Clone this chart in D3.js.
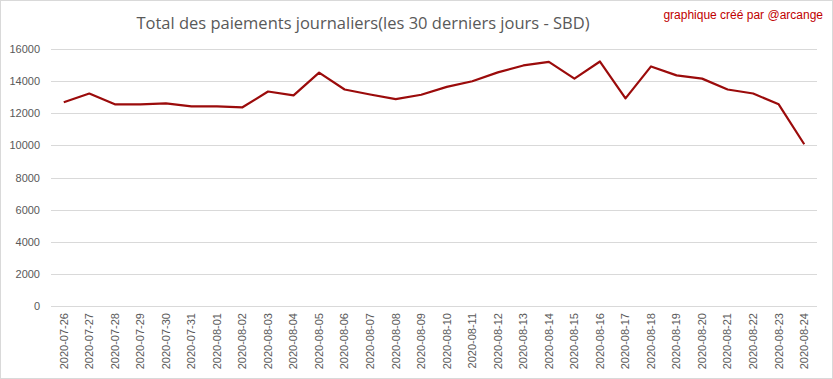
<!DOCTYPE html>
<html><head><meta charset="utf-8">
<script src="https://cdn.jsdelivr.net/npm/d3@7"></script>
<style>html,body{margin:0;padding:0;background:#fff;}svg{display:block;}</style>
</head><body>
<script>
const dates = ["2020-07-26","2020-07-27","2020-07-28","2020-07-29","2020-07-30","2020-07-31","2020-08-01","2020-08-02","2020-08-03","2020-08-04","2020-08-05","2020-08-06","2020-08-07","2020-08-08","2020-08-09","2020-08-10","2020-08-11","2020-08-12","2020-08-13","2020-08-14","2020-08-15","2020-08-16","2020-08-17","2020-08-18","2020-08-19","2020-08-20","2020-08-21","2020-08-22","2020-08-23","2020-08-24"];
const payouts = [12690,13230,12555,12555,12615,12430,12430,12370,13355,13110,14525,13480,13170,12880,13150,13640,13990,14545,14975,15200,14155,15220,12925,14915,14360,14155,13480,13230,12555,10070];
const yTicks = [0,2000,4000,6000,8000,10000,12000,14000,16000];
const title = "Total des paiements journaliers(les 30 derniers jours - SBD)";
const credit = "graphique créé par @arcange";

const W = 833, H = 379;
const m = {left: 51, right: 16, top: 49, bottom: 73};
const svg = d3.select("body").append("svg").attr("width", W).attr("height", H);
svg.append("rect").attr("x",0.5).attr("y",0.5).attr("width",W-1).attr("height",H-1)
  .attr("fill","#fff").attr("stroke","#d9d9d9");

const x = d3.scaleBand().domain(dates).range([m.left, W - m.right]);
const y = d3.scaleLinear().domain([0,16000]).range([H - m.bottom, m.top]);

// gridlines
svg.append("g").selectAll("line").data(yTicks).join("line")
  .attr("x1", m.left).attr("x2", W - m.right)
  .attr("y1", d => Math.round(y(d)) + 0.5).attr("y2", d => Math.round(y(d)) + 0.5)
  .attr("stroke", "#d9d9d9").attr("stroke-width", 1);

// y axis labels
const ya = svg.append("g").attr("transform", `translate(${m.left},0)`)
  .call(d3.axisLeft(y).tickValues(yTicks).tickSize(0).tickPadding(11).tickFormat(d3.format("d")));
ya.select(".domain").remove();
ya.selectAll("text").attr("fill","#595959").style("font-family","'Liberation Sans', Arial, sans-serif").style("font-size","11px");

// x axis labels
const xa = svg.append("g").attr("transform", `translate(0,${H - m.bottom})`)
  .call(d3.axisBottom(x).tickSize(0).tickPadding(0));
xa.select(".domain").remove();
xa.selectAll("text")
  .attr("fill","#595959")
  .style("font-family","'Liberation Sans', Arial, sans-serif").style("font-size","11px")
  .attr("text-anchor","end").attr("dy","0.35em")
  .attr("transform","translate(0,7) rotate(-90)");

// line
const line = d3.line().x((d,i) => x(dates[i]) + x.bandwidth()/2).y(d => y(d));
svg.append("path").datum(payouts).attr("d", line)
  .attr("fill","none").attr("stroke","#9b0b0b").attr("stroke-width",2.2)
  .attr("stroke-linejoin","round");

// title
svg.append("text").attr("x", 363).attr("y", 29).attr("text-anchor","middle")
  .attr("fill","#595959").style("font-family","'Open Sans', 'Liberation Sans', sans-serif")
  .style("font-size","16.5px").text(title);

svg.append("text").attr("x", 823).attr("y", 19).attr("text-anchor","end")
  .attr("fill","#c00000").style("font-family","'Liberation Sans', Arial, sans-serif")
  .style("font-size","12px").text(credit);
</script>
</body></html>
